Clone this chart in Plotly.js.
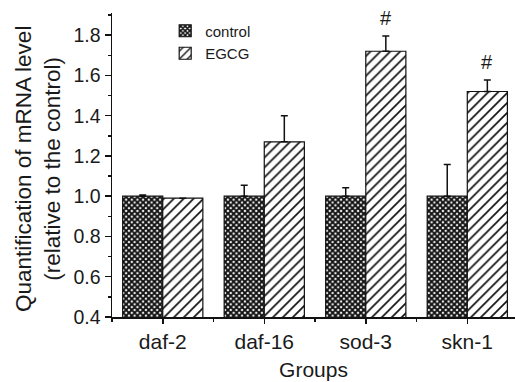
<!DOCTYPE html>
<html>
<head>
<meta charset="utf-8">
<script src="https://cdn.plot.ly/plotly-3.0.1.min.js"></script>
<style>html,body{margin:0;padding:0;background:#fff;}#chart{width:515px;height:382px;}</style>
</head>
<body>
<div id="chart"></div>
<script>
const categories = ['daf-2', 'daf-16', 'sod-3', 'skn-1'];
const controlMean = [1.0, 1.0, 1.0, 1.0];
const controlErr = [0.006, 0.055, 0.042, 0.157];
const egcgMean = [0.99, 1.27, 1.72, 1.52];
const egcgErr = [0, 0.13, 0.076, 0.057];
const sigMarks = ['', '', '#', '#'];
const seriesNames = ['control', 'EGCG'];

const xIdx = categories.map((c, i) => i);
const FONT = '"Liberation Sans", Arial, Helvetica, sans-serif';
const bargap = 0.21;
const halfOff = (1 - bargap) / 4;

const errStyle = (arr) => ({
  type: 'data', array: arr, arrayminus: arr.map(() => 0), symmetric: false,
  visible: true, color: '#111', thickness: 1.5, width: 3.5
});

const traces = [
  {
    type: 'bar', name: seriesNames[0], x: xIdx, y: controlMean,
    error_y: errStyle(controlErr),
    marker: {
      color: '#fff',
      line: {color: '#111', width: 1.2},
      pattern: {shape: 'x', size: 4, solidity: 0.72, fgcolor: '#111', bgcolor: '#fff'}
    }
  },
  {
    type: 'bar', name: seriesNames[1], x: xIdx, y: egcgMean,
    error_y: errStyle(egcgErr),
    marker: {
      color: '#fff',
      line: {color: '#111', width: 1.2},
      pattern: {shape: '/', size: 7, solidity: 0.24, fgcolor: '#111', bgcolor: '#fff'}
    }
  }
];

const annotations = [];
sigMarks.forEach((m, i) => {
  if (!m) return;
  annotations.push({
    x: i + halfOff, y: egcgMean[i] + egcgErr[i], xref: 'x', yref: 'y',
    text: m, showarrow: false, yanchor: 'bottom', yshift: 5,
    font: {family: FONT, size: 20, color: '#1a1a1a'}
  });
});
annotations.push({
  xref: 'paper', yref: 'paper', x: 0, y: 0.5, xshift: -74, yshift: -4,
  xanchor: 'center', yanchor: 'middle', textangle: -90, showarrow: false,
  text: 'Quantification of mRNA level<br>(relative to the control)',
  font: {family: FONT, size: 22.5, color: '#1a1a1a'}
});

const layout = {
  width: 515, height: 382,
  margin: {l: 112, r: 0, t: 13, b: 65},
  paper_bgcolor: '#fff', plot_bgcolor: '#fff',
  font: {family: FONT, color: '#1a1a1a'},
  barmode: 'group', bargap: bargap, bargroupgap: 0,
  showlegend: true,
  legend: {
    x: 0.132, y: 0.995, xanchor: 'left', yanchor: 'top',
    font: {family: FONT, size: 15, color: '#1a1a1a'},
    bgcolor: 'rgba(0,0,0,0)', tracegroupgap: 0, traceorder: 'normal'
  },
  xaxis: {
    type: 'linear', range: [-0.5, 3.47], fixedrange: true,
    tickmode: 'array', tickvals: xIdx, ticktext: categories,
    ticks: 'outside', ticklen: 5, tickwidth: 1.5, tickcolor: '#111',
    minor: {ticks: 'outside', tickmode: 'linear', tick0: 0.5, dtick: 1, ticklen: 3, tickwidth: 1.5, tickcolor: '#111'},
    showline: true, linecolor: '#111', linewidth: 1.5,
    showgrid: false, zeroline: false,
    tickfont: {family: FONT, size: 21, color: '#1a1a1a'},
    title: {text: 'Groups', font: {family: FONT, size: 21, color: '#1a1a1a'}, standoff: 10}
  },
  yaxis: {
    range: [0.4, 1.91], fixedrange: true,
    tickmode: 'linear', tick0: 0.4, dtick: 0.2, tickformat: '.1f',
    ticks: 'outside', ticklen: 6, tickwidth: 1.5, tickcolor: '#111',
    minor: {ticks: 'outside', dtick: 0.1, ticklen: 3, tickwidth: 1.5, tickcolor: '#111'},
    showline: true, linecolor: '#111', linewidth: 1.5,
    showgrid: false, zeroline: false,
    tickfont: {family: FONT, size: 19.5, color: '#1a1a1a'}
  },
  annotations: annotations
};

Plotly.newPlot('chart', traces, layout, {displayModeBar: false, staticPlot: true});
</script>
</body>
</html>
